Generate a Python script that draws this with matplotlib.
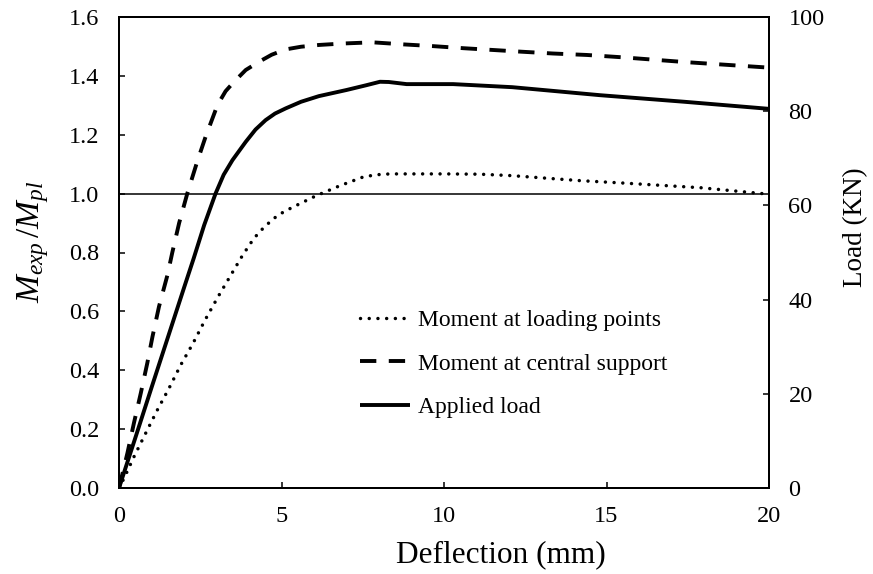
import matplotlib
matplotlib.use("Agg")
import matplotlib.pyplot as plt

plt.rcParams['font.family'] = ['Liberation Serif', 'DejaVu Serif']
plt.rcParams['mathtext.fontset'] = 'custom'
plt.rcParams['mathtext.rm'] = 'Liberation Serif'
plt.rcParams['mathtext.it'] = 'Liberation Serif:italic'

# Moment at loading points (M_exp/M_pl)
defl_lp = [0, 0.15, 0.46, 0.82, 1.18, 1.54, 1.90, 2.28, 2.65, 3.05, 3.44, 3.80, 4.15, 4.48,
           4.89, 5.31, 5.79, 6.05, 6.8, 7.5, 7.9, 8.34, 10.0, 11.1, 12.1, 13.2, 14.2, 15.5, 17.9, 20.0]
m_lp = [0, 0.032, 0.106, 0.186, 0.265, 0.339, 0.418, 0.492, 0.571, 0.650, 0.723, 0.790, 0.848, 0.888,
        0.927, 0.952, 0.978, 0.992, 1.027, 1.056, 1.064, 1.067, 1.067, 1.066, 1.061, 1.052, 1.044, 1.036, 1.020, 0.998]

# Moment at central support (M_exp/M_pl)
defl_cs = [0, 0.26, 0.46, 0.67, 0.87, 1.03, 1.23, 1.49, 1.64, 1.85, 2.10, 2.41, 2.67, 3.03, 3.28,
           3.54, 3.9, 4.31, 4.7, 5.13, 5.6, 6.15, 6.9, 7.8, 8.75, 9.67, 10.6, 11.5, 12.4, 13.35,
           14.4, 15.5, 17.4, 20.0]
m_cs = [0, 0.119, 0.221, 0.322, 0.424, 0.514, 0.616, 0.723, 0.800, 0.900, 1.000, 1.110, 1.195, 1.301, 1.348,
        1.380, 1.420, 1.448, 1.472, 1.490, 1.499, 1.505, 1.510, 1.514, 1.507, 1.501, 1.494, 1.488, 1.482, 1.476,
        1.471, 1.463, 1.447, 1.428]

# Applied load (KN)
defl_load = [0, 0.5, 1.0, 1.5, 2.0, 2.3, 2.62, 2.97, 3.22, 3.49, 3.9, 4.2, 4.51, 4.8, 5.13,
             5.6, 6.15, 7.0, 7.6, 8.03, 8.3, 8.85, 10.28, 12.1, 14.8, 17.4, 20.0]
load = [0, 10.6, 21.3, 31.9, 42.5, 48.8, 55.8, 62.5, 66.5, 69.6, 73.5, 76.1, 78.1, 79.5, 80.6,
        82.0, 83.2, 84.5, 85.5, 86.25, 86.2, 85.75, 85.75, 85.1, 83.4, 82.0, 80.5]

labels = ['Moment at loading points', 'Moment at central support', 'Applied load']
x_ticks = [0, 5, 10, 15, 20]
left_ticks = [0.0, 0.2, 0.4, 0.6, 0.8, 1.0, 1.2, 1.4, 1.6]
right_ticks = [0, 20, 40, 60, 80, 100]

fig = plt.figure(figsize=(8.73, 5.74), dpi=100)
ax = fig.add_axes([119/873, 86/574, 650/873, 471/574])
ax2 = ax.twinx()

lw = 2.8
l1, = ax.plot(defl_lp, m_lp, color='black', lw=2.5, linestyle=(0, (0.01, 2.5)),
              dash_capstyle='round', label=labels[0])
l2, = ax.plot(defl_cs, m_cs, color='black', lw=lw, linestyle=(0, (4.2, 3.2)),
              dash_capstyle='butt', dash_joinstyle='round', label=labels[1])
ax.axhline(1.0, color='black', lw=1.1)
l3, = ax2.plot(defl_load, load, color='black', lw=lw, solid_capstyle='butt',
               solid_joinstyle='round', label=labels[2])

ax.set_xlim(0, 20)
ax.set_ylim(0, 1.6)
ax2.set_ylim(0, 100)
ax.set_xticks(x_ticks)
ax.set_yticks(left_ticks)
ax.set_yticklabels([f'{v:.1f}' for v in left_ticks])
ax2.set_yticks(right_ticks)

for a in (ax, ax2):
    for s in a.spines.values():
        s.set_linewidth(1.4)
ax.tick_params(axis='x', direction='in', length=4.5, width=1.1, labelsize=17.5, pad=13)
ax.tick_params(axis='y', direction='in', length=4.5, width=1.1, labelsize=17.5, pad=14)
ax2.tick_params(axis='y', direction='in', length=4.5, width=1.1, labelsize=17.5, pad=14)

ax.set_xlabel('Deflection (mm)', fontsize=22.5)
ax.xaxis.set_label_coords((501-119)/650, -(555-488)/471)
ax.xaxis.label.set_va('center')
ax.set_ylabel(r'$M_{exp}\,/M_{pl}$', fontsize=24)
ax.yaxis.set_label_coords(-(119-33)/650, (488-242)/471)
ax.yaxis.label.set_va('center')
ax2.set_ylabel('Load (KN)', fontsize=19.5)
ax2.yaxis.set_label_coords((856-119)/650, (488-227)/471)
ax2.yaxis.label.set_va('center')

leg = ax.legend([l1, l2, l3], labels, loc='center left', bbox_to_anchor=(0.371, 0.2633),
                frameon=False, fontsize=17, handlelength=2.1, handletextpad=0.35,
                labelspacing=0.94, borderpad=0, borderaxespad=0)

fig.savefig('out.png', dpi=100)
